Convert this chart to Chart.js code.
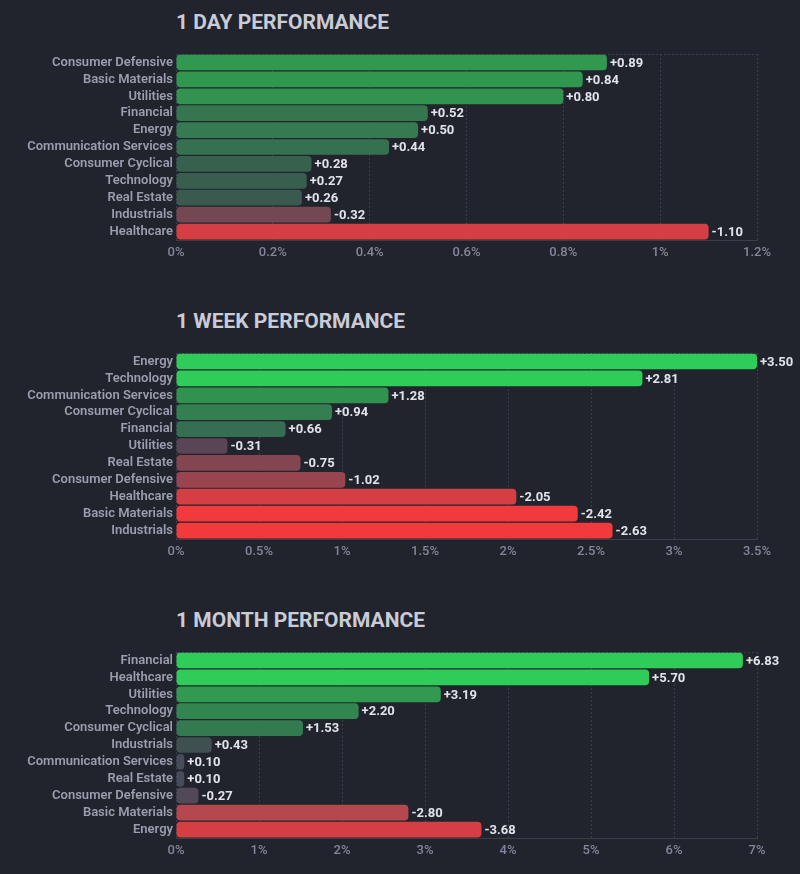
<!DOCTYPE html>
<html lang="en">
<head>
<meta charset="UTF-8">
<title>Sector Performance</title>
<script src="https://cdn.jsdelivr.net/npm/chart.js"></script>
<style>
    body {
        margin: 0;
        width: 800px;
        height: 874px;
        overflow: hidden;
        background: #21242c;
        font-family: Roboto, "Noto Sans", sans-serif;
    }
    .panel {
        position: absolute;
        left: 0;
        width: 800px;
        height: 299px;
    }
    .panel h2 {
        position: absolute;
        left: 176px;
        top: 8px;
        margin: 0;
        font-size: 21px;
        line-height: 28px;
        font-weight: 700;
        color: #c9cbd6;
    }
    .panel canvas {
        position: absolute;
        left: 0;
        top: 40px;
    }
</style>
</head>
<body>
<div class="panel" style="top:0px"><h2>1 DAY PERFORMANCE</h2><canvas id="dayChart" width="800" height="230"></canvas></div>
<div class="panel" style="top:299px"><h2>1 WEEK PERFORMANCE</h2><canvas id="weekChart" width="800" height="230"></canvas></div>
<div class="panel" style="top:598px"><h2>1 MONTH PERFORMANCE</h2><canvas id="monthChart" width="800" height="230"></canvas></div>

<script>
// data
const dayCategories = ['Consumer Defensive', 'Basic Materials', 'Utilities', 'Financial', 'Energy',
    'Communication Services', 'Consumer Cyclical', 'Technology', 'Real Estate', 'Industrials', 'Healthcare'];
const dayValues = [0.89, 0.84, 0.80, 0.52, 0.50, 0.44, 0.28, 0.27, 0.26, -0.32, -1.10];
const dayAxis = { max: 1.2, step: 0.2 };

const weekCategories = ['Energy', 'Technology', 'Communication Services', 'Consumer Cyclical', 'Financial',
    'Utilities', 'Real Estate', 'Consumer Defensive', 'Healthcare', 'Basic Materials', 'Industrials'];
const weekValues = [3.50, 2.81, 1.28, 0.94, 0.66, -0.31, -0.75, -1.02, -2.05, -2.42, -2.63];
const weekAxis = { max: 3.5, step: 0.5 };

const monthCategories = ['Financial', 'Healthcare', 'Utilities', 'Technology', 'Consumer Cyclical',
    'Industrials', 'Communication Services', 'Real Estate', 'Consumer Defensive', 'Basic Materials', 'Energy'];
const monthValues = [6.83, 5.70, 3.19, 2.20, 1.53, 0.43, 0.10, 0.10, -0.27, -2.80, -3.68];
const monthAxis = { max: 7, step: 1 };

// bar colours (style only)
const dayColors = ['#30994f', '#31974f', '#31934f', '#35764f', '#357a50', '#357050',
    '#38604f', '#385e4f', '#3a5a4f', '#734853', '#d53f44'];
const weekColors = ['#30cc5a', '#30cc5a', '#31914f', '#337f50', '#356e50', '#5a4555',
    '#834550', '#994550', '#d53f44', '#f03a3d', '#f23a3c'];
const monthColors = ['#30cc5a', '#30cc5a', '#319a50', '#318650', '#337a50', '#3e5050',
    '#484b5c', '#484b5c', '#524858', '#b5474f', '#d53f44'];

const gridColor = '#3a3e4a';
const fontFamily = 'Roboto, "Noto Sans", sans-serif';

// value labels at bar ends + dashed top line
const extras = {
    id: 'extras',
    afterDatasetsDraw(chart) {
        const ctx = chart.ctx;
        const area = chart.chartArea;
        ctx.save();
        ctx.strokeStyle = gridColor;
        ctx.lineWidth = 1;
        ctx.setLineDash([2, 2]);
        ctx.beginPath();
        ctx.moveTo(area.left, area.top + 0.5);
        ctx.lineTo(area.right, area.top + 0.5);
        ctx.stroke();
        ctx.setLineDash([]);

        const raw = chart.config.options.rawValues;
        ctx.font = 'bold 13px ' + fontFamily;
        ctx.fillStyle = '#e2e3ea';
        ctx.textBaseline = 'middle';
        ctx.textAlign = 'left';
        chart.getDatasetMeta(0).data.forEach((bar, i) => {
            const v = raw[i];
            const txt = (v >= 0 ? '+' : '') + v.toFixed(2);
            ctx.fillText(txt, bar.x + 3, bar.y + 1);
        });
        ctx.restore();
    }
};

function makeChart(id, labels, values, colors, axis) {
    new Chart(document.getElementById(id), {
        type: 'bar',
        data: {
            labels: labels,
            datasets: [{
                data: values.map(v => Math.abs(v)),
                backgroundColor: colors,
                borderRadius: 4,
                borderSkipped: false,
                categoryPercentage: 1,
                barPercentage: 0.93
            }]
        },
        options: {
            rawValues: values,
            indexAxis: 'y',
            responsive: false,
            animation: false,
            layout: { padding: { top: 14, right: 43, left: 0, bottom: 0 } },
            plugins: {
                legend: { display: false },
                tooltip: { enabled: false }
            },
            scales: {
                x: {
                    min: 0,
                    max: axis.max,
                    afterFit(scale) { scale.height = 30; },
                    ticks: {
                        stepSize: axis.step,
                        color: '#82869a',
                        padding: 5,
                        font: { family: fontFamily, size: 13, weight: '500' },
                        callback: v => Number(v.toFixed(2)) + '%'
                    },
                    grid: {
                        color: gridColor,
                        drawTicks: false,
                        lineWidth: 1
                    },
                    border: { display: true, color: gridColor, dash: [2, 2] }
                },
                y: {
                    afterFit(scale) { scale.width = 176; },
                    grid: { display: false, drawTicks: false, tickLength: 0 },
                    border: { display: false },
                    ticks: {
                        autoSkip: false,
                        color: '#9b9db0',
                        padding: 3,
                        font: { family: fontFamily, size: 13, weight: '600' }
                    }
                }
            }
        },
        plugins: [extras]
    });
}

makeChart('dayChart', dayCategories, dayValues, dayColors, dayAxis);
makeChart('weekChart', weekCategories, weekValues, weekColors, weekAxis);
makeChart('monthChart', monthCategories, monthValues, monthColors, monthAxis);
</script>
</body>
</html>
